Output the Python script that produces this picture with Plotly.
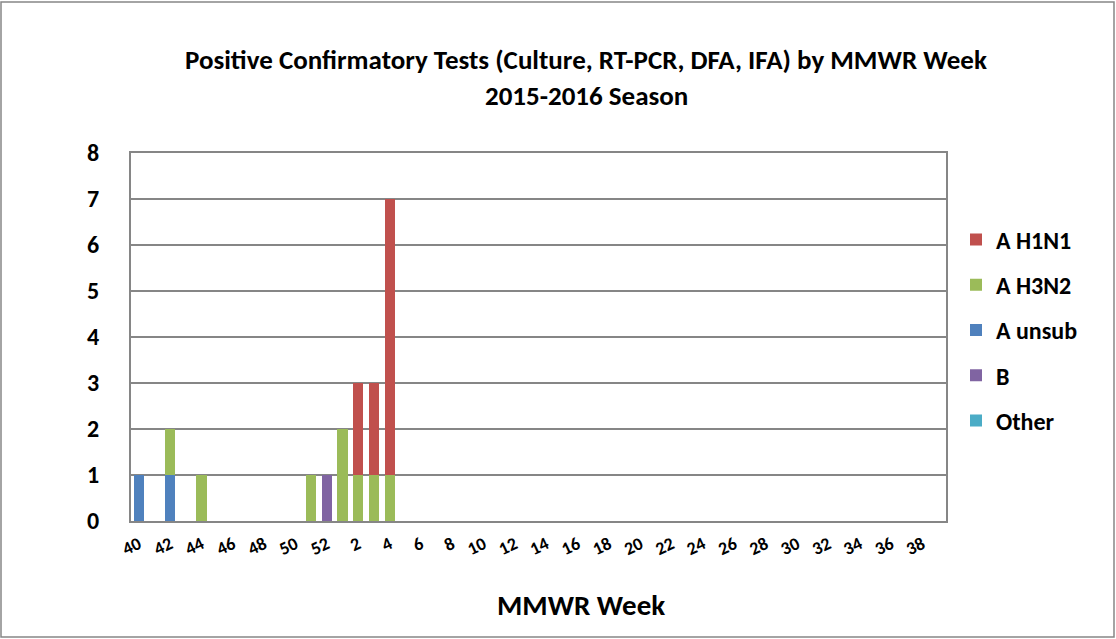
import plotly.graph_objects as go

weeks = [str(w) for w in list(range(40, 53)) + list(range(1, 40))]
tick_labels = [w for i, w in enumerate(weeks) if i % 2 == 0]

# values per series (week -> count)
a_h1n1 = {"2": 2, "3": 2, "4": 6}
a_h3n2 = {"42": 1, "44": 1, "51": 1, "1": 2, "2": 1, "3": 1, "4": 1}
a_unsub = {"40": 1, "42": 1}
b_vals = {"52": 1}
other = {}

# bottom-to-top stacking order, with legend rank
series = [
    ("Other", other, "#4BACC6", 5),
    ("B", b_vals, "#8064A2", 4),
    ("A unsub", a_unsub, "#4F81BD", 3),
    ("A H3N2", a_h3n2, "#9BBB59", 2),
    ("A H1N1", a_h1n1, "#C0504D", 1),
]

W, H = 1116, 639
L, R, T, B = 131, 170, 153, 118
font = "Carlito, Liberation Sans"

fig = go.Figure()
for name, vals, color, rank in series:
    fig.add_trace(go.Bar(
        x=weeks, y=[vals.get(w, 0) for w in weeks], name=f"<b>{name}</b>",
        marker=dict(color=color, line=dict(width=0)), legendgroup=name, legendrank=rank,
    ))

pw = W - L - R
ph = H - T - B


def px(xp):
    return (xp - L) / pw


def py(yp):
    return (H - B - yp) / ph


fig.update_layout(
    width=W, height=H, barmode="stack", bargap=0.35,
    margin=dict(l=L, r=R, t=T, b=B, autoexpand=False),
    paper_bgcolor="white", plot_bgcolor="white",
    font=dict(family=font, color="black"),
    xaxis=dict(type="category", categoryorder="array", categoryarray=weeks,
               tickmode="array", tickvals=tick_labels,
               ticktext=[f"<b>{t}</b>" for t in tick_labels],
               tickangle=-25, tickfont=dict(size=18), showgrid=False,
               showline=True, mirror=True, linecolor="#868686", linewidth=2,
               ticks="", ticklabelstandoff=4, automargin=False),
    yaxis=dict(range=[0, 8], tickmode="array", tickvals=list(range(9)),
               ticktext=[f"<b>{i}</b>" for i in range(9)],
               tickfont=dict(size=24),
               showgrid=True, gridcolor="#868686", gridwidth=2,
               showline=True, mirror=True, linecolor="#868686", linewidth=2,
               zeroline=False, ticks="", ticklabelstandoff=25, automargin=False),
    legend=dict(x=px(956), xanchor="left", y=py(330), yanchor="middle",
                traceorder="grouped", tracegroupgap=11,
                font=dict(size=24), itemwidth=30, bgcolor="rgba(0,0,0,0)"),
    annotations=[
        dict(text="<b>Positive Confirmatory Tests (Culture, RT-PCR, DFA, IFA) by MMWR Week</b>",
             xref="paper", yref="paper", x=px(586), y=py(60), xanchor="center", yanchor="middle",
             showarrow=False, font=dict(size=27)),
        dict(text="<b>2015-2016 Season</b>",
             xref="paper", yref="paper", x=px(586), y=py(95), xanchor="center", yanchor="middle",
             showarrow=False, font=dict(size=27)),
        dict(text="<b>MMWR Week</b>", xref="paper", yref="paper",
             x=px(581), y=py(605), xanchor="center", yanchor="middle",
             showarrow=False, font=dict(size=29)),
    ],
    shapes=[dict(type="rect", xref="paper", yref="paper",
                 x0=px(1), x1=px(W - 2), y0=py(H - 2), y1=py(2),
                 line=dict(color="#868686", width=1.5), layer="below")],
)
fig.write_html("out.html", config={"displayModeBar": False},
               post_script="document.body.style.margin='0';")
